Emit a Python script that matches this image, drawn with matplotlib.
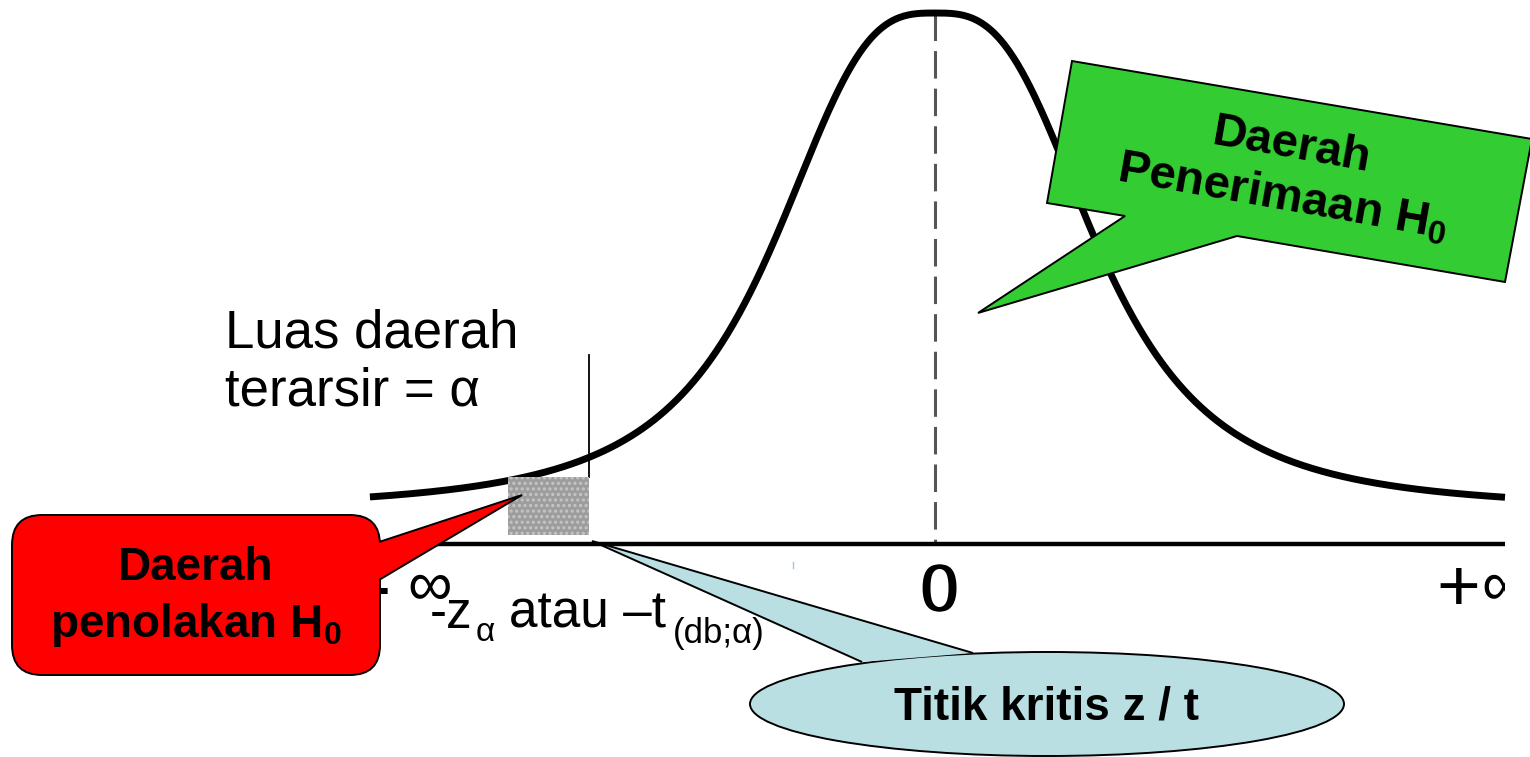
import numpy as np
import matplotlib.pyplot as plt
from matplotlib.patches import Polygon, FancyBboxPatch, Ellipse, Rectangle
from matplotlib.transforms import Bbox, TransformedBbox

plt.rcParams['font.family'] = ['Liberation Sans', 'DejaVu Sans']
plt.rcParams['mathtext.fontset'] = 'custom'
plt.rcParams['mathtext.rm'] = 'Liberation Sans'
plt.rcParams['mathtext.it'] = 'Liberation Sans:italic'
plt.rcParams['mathtext.bf'] = 'Liberation Sans:bold'
plt.rcParams['hatch.linewidth'] = 1.5

# bell curve shape (peak = 1), cut off at both ends
bell_power = 3.0
z_left, z_right = -3.324, 3.353
z_crit = -2.035         # critical point
z_shade_left = -2.512   # left edge of the shaded patch
axis_level = -0.069     # horizontal axis, density units
crit_top = 0.312        # top of the thin critical line
shade_bottom, shade_top = -0.050, 0.067

# labels
left_minus, left_inf = '-', '∞'
mid_label = '0'
right_plus, right_inf = '+', '∞'
crit_parts = ['-z', 'α', 'atau –t', '(db;α)']
area_label = ['Luas daerah', 'terarsir = α']
reject_text = ['Daerah', r'penolakan H$_\mathbf{0}$']
accept_text = 'Daerah\n' + r'Penerimaan H$_\mathbf{0}$'
crit_text = 'Titik kritis z / t'

fig = plt.figure(figsize=(15.3, 7.57), dpi=100)

# main axes: z units horizontally, relative density vertically
ax = fig.add_axes([0, 0, 1, 1])
ax.set_xlim(-5.5, 3.5)
ax.set_ylim(-0.4967, 1.0262)
ax.axis('off')

z = np.linspace(z_left, z_right, 800)
dens = 1 / (1 + np.abs(z) ** bell_power)
ax.plot(z, dens, color='black', lw=5, solid_capstyle='butt', zorder=3)
ax.plot([z_left, z_right], [axis_level, axis_level], color='black', lw=3.2,
        solid_capstyle='butt', zorder=3)
ax.plot([0, 0], [1, axis_level], color='#555555', lw=2.2, dashes=(9, 3.3), zorder=2)
ax.plot([z_crit, z_crit], [crit_top, shade_top], color='black', lw=1.3, zorder=3)
ax.add_patch(Rectangle((z_shade_left, shade_bottom), z_crit - z_shade_left,
                       shade_top - shade_bottom, facecolor='#9d9d9d',
                       edgecolor='#c6c6c6', hatch='...', lw=0, zorder=3))

# overlay axes in pixel units for labels and callouts
ov = fig.add_axes([0, 0, 1, 1])
ov.set_xlim(0, 1530)
ov.set_ylim(757, 0)
ov.axis('off')

ov.text(225, 347, area_label[0], fontsize=38, ha='left', va='baseline')
ov.text(225, 405, area_label[1], fontsize=38, ha='left', va='baseline')

ov.text(430, 628, crit_parts[0], fontsize=37, ha='left', va='baseline')
ov.text(476, 641, crit_parts[1], fontsize=24, ha='left', va='baseline')
ov.text(509, 628, crit_parts[2], fontsize=37, ha='left', va='baseline')
ov.text(673, 643, crit_parts[3], fontsize=25, ha='left', va='baseline')

ov.text(391, 611, left_minus, fontsize=54, ha='right', va='baseline', zorder=2)
ov.text(407, 605, left_inf, fontsize=45, ha='left', va='baseline', zorder=2)
for dx in (-1, 1):
    ov.text(939 + dx, 611, mid_label, fontsize=48, ha='center', va='baseline')

clip_box = TransformedBbox(Bbox([[0, 0], [1505, 757]]), ov.transData)
for txt in (ov.text(1436, 611, right_plus, fontsize=54, ha='left', va='baseline'),
            ov.text(1481, 605, right_inf, fontsize=45, ha='left', va='baseline')):
    txt.set_clip_on(True)
    txt.set_clip_box(clip_box)
ov.plot([793, 793], [562, 568], color='#9ecae1', lw=1)

# red callout
ov.add_patch(FancyBboxPatch((12, 515), 368, 160,
                            boxstyle='round,pad=0,rounding_size=30',
                            facecolor='#ff0000', edgecolor='black', lw=1.4, zorder=5))
ov.add_patch(Polygon([(379, 542), (522, 495), (379, 580)], closed=False,
                     facecolor='#ff0000', edgecolor='black', lw=1.4, zorder=6))
ov.text(196, 580, reject_text[0], fontsize=33, weight='bold', ha='center',
        va='baseline', zorder=7)
ov.text(196, 637, reject_text[1], fontsize=33, weight='bold', ha='center',
        va='baseline', zorder=7)

# green callout
ov.add_patch(Polygon([(1072, 61), (1532, 139), (1505, 282), (1237, 236),
                      (978, 313), (1125, 216), (1047, 203)], closed=True,
                     facecolor='#33cc33', edgecolor='black', lw=1.4, zorder=5))
ov.text(1287, 172, accept_text, rotation=-10, rotation_mode='anchor',
        ha='center', va='center', multialignment='center', fontsize=34,
        weight='bold', linespacing=1.2, zorder=7)

# light blue callout
ov.add_patch(Ellipse((1047, 704), 594, 104, facecolor='#b9dfe3',
                     edgecolor='black', lw=1.4, zorder=5))
ov.add_patch(Polygon([(862, 662), (592, 541), (973, 653)], closed=False,
                     facecolor='#b9dfe3', edgecolor='black', lw=1.4, zorder=6))
ov.text(1047, 708, crit_text, fontsize=33, weight='bold', ha='center',
        va='center', zorder=7)

fig.savefig('out.png', dpi=100)
